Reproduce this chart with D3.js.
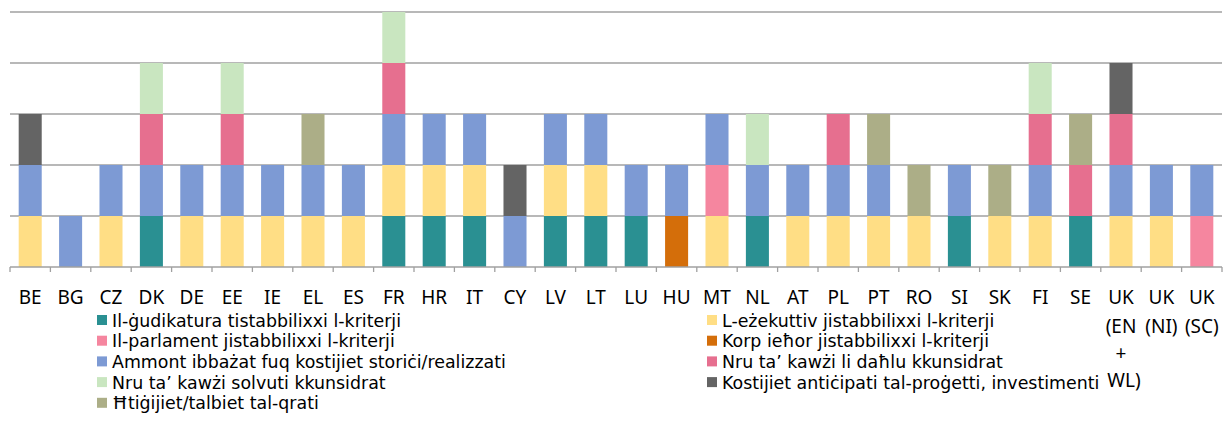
<!DOCTYPE html>
<html>
<head>
<meta charset="utf-8">
<script src="https://cdn.jsdelivr.net/npm/d3@7"></script>
<style>
  body { margin: 0; background: #fff; }
  svg { display: block; font-family: "Noto Sans", "Open Sans", sans-serif; }
  .legend text { font-family: "DejaVu Sans", "Noto Sans", sans-serif; }
</style>
</head>
<body>
<script>
// pajjiżi
var categories = ["BE","BG","CZ","DK","DE","EE","IE","EL","ES","FR","HR","IT","CY","LV","LT","LU","HU","MT","NL","AT","PL","PT","RO","SI","SK","FI","SE","UK\n(EN\n+\nWL)","UK\n(NI)","UK\n(SC)"];

// serje (1 = il-kriterju jintuża)
var judiciary  = [0,0,0,1,0,0,0,0,0,1,1,1,0,1,1,1,0,0,1,0,0,0,0,1,0,0,1,0,0,0];
var executive  = [1,0,1,0,1,1,1,1,1,1,1,1,0,1,1,0,0,1,0,1,1,1,1,0,1,1,0,1,1,0];
var parliament = [0,0,0,0,0,0,0,0,0,0,0,0,0,0,0,0,0,1,0,0,0,0,0,0,0,0,0,0,0,1];
var otherBody  = [0,0,0,0,0,0,0,0,0,0,0,0,0,0,0,0,1,0,0,0,0,0,0,0,0,0,0,0,0,0];
var amount     = [1,1,1,1,1,1,1,1,1,1,1,1,1,1,1,1,1,1,1,1,1,1,0,1,0,1,0,1,1,1];
var casesIn    = [0,0,0,1,0,1,0,0,0,1,0,0,0,0,0,0,0,0,0,0,1,0,0,0,0,1,1,1,0,0];
var solved     = [0,0,0,1,0,1,0,0,0,1,0,0,0,0,0,0,0,0,1,0,0,0,0,0,0,1,0,0,0,0];
var costs      = [1,0,0,0,0,0,0,0,0,0,0,0,1,0,0,0,0,0,0,0,0,0,0,0,0,0,0,1,0,0];
var needs      = [0,0,0,0,0,0,0,1,0,0,0,0,0,0,0,0,0,0,0,0,0,1,1,0,1,0,1,0,0,0];

var seriesNames = [
  "Il-ġudikatura tistabbilixxi l-kriterji",
  "L-eżekuttiv jistabbilixxi l-kriterji",
  "Il-parlament jistabbilixxi l-kriterji",
  "Korp ieħor jistabbilixxi l-kriterji",
  "Ammont ibbażat fuq kostijiet storiċi/realizzati",
  "Nru ta’ kawżi li daħlu kkunsidrat",
  "Nru ta’ kawżi solvuti kkunsidrat",
  "Kostijiet antiċipati tal-proġetti, investimenti",
  "Ħtiġijiet/talbiet tal-qrati"
];
var seriesValues = [judiciary, executive, parliament, otherBody, amount, casesIn, solved, costs, needs];
var seriesColors = ["#2a9092","#ffde85","#f5869f","#d46e0a","#7d9ad4","#e66f8f","#c9e6c0","#646464","#acae87"];

var W = 1226, H = 442;
var margin = {top: 12, bottom: 175, left: 10, right: 4};

var svg = d3.select("body").append("svg")
  .attr("width", W).attr("height", H);

var x = d3.scaleBand()
  .domain(categories)
  .range([margin.left, W - margin.right])
  .paddingInner(0.43)
  .paddingOuter(0.215);

var y = d3.scaleLinear()
  .domain([0, 5])
  .range([H - margin.bottom, margin.top]);

// tabella għal d3.stack
var table = categories.map(function (c, i) {
  var row = {cat: c};
  seriesNames.forEach(function (n, k) { row[n] = seriesValues[k][i]; });
  return row;
});
var stacked = d3.stack().keys(seriesNames)(table);

// linji tal-grilja
svg.append("g")
  .selectAll("line")
  .data(y.ticks(5).filter(function (t) { return t > 0; }))
  .enter().append("line")
  .attr("x1", margin.left).attr("x2", W - margin.right)
  .attr("y1", function (d) { return y(d); })
  .attr("y2", function (d) { return y(d); })
  .attr("stroke", "#a0a0a0").attr("stroke-width", 1.3);

// vireg
svg.append("g")
  .selectAll("g")
  .data(stacked)
  .enter().append("g")
  .attr("fill", function (d, k) { return seriesColors[k]; })
  .selectAll("rect")
  .data(function (d) { return d.filter(function (s) { return s[1] > s[0]; }); })
  .enter().append("rect")
  .attr("x", function (s) { return x(s.data.cat); })
  .attr("width", x.bandwidth())
  .attr("y", function (s) { return y(s[1]); })
  .attr("height", function (s) { return y(s[0]) - y(s[1]); });

// assi x
var y0 = y(0);
var step = x.step();
var x0 = x.range()[0];
var axis = svg.append("g");
axis.append("line")
  .attr("x1", x0).attr("x2", W - margin.right)
  .attr("y1", y0).attr("y2", y0)
  .attr("stroke", "#a0a0a0").attr("stroke-width", 1.3);
axis.selectAll("line.tick")
  .data(d3.range(categories.length + 1))
  .enter().append("line")
  .attr("class", "tick")
  .attr("x1", function (i) { return x0 + i * step; })
  .attr("x2", function (i) { return x0 + i * step; })
  .attr("y1", y0).attr("y2", y0 + 5)
  .attr("stroke", "#a0a0a0").attr("stroke-width", 1.3);

axis.selectAll("text")
  .data(categories)
  .enter().append("text")
  .attr("x", function (c) { return x(c) + x.bandwidth() / 2; })
  .attr("y", y0 + 37)
  .attr("text-anchor", "middle")
  .attr("font-size", 19)
  .attr("fill", "#000")
  .each(function (c) {
    var t = d3.select(this);
    c.split("\n").forEach(function (ln, j) {
      t.append("tspan")
        .attr("x", x(c) + x.bandwidth() / 2 + (ln === "WL)" ? 3 : 0))
        .attr("dy", j === 0 ? 0 : (j === 1 ? 29 : 27))
        .text(ln);
    });
  });

// leġġenda
var legend = svg.append("g").attr("class", "legend");
var item = legend.selectAll("g")
  .data(seriesNames)
  .enter().append("g")
  .attr("transform", function (d, k) {
    var col = k % 2, row = Math.floor(k / 2);
    return "translate(" + (col === 0 ? 97 : 707) + "," + (320 + row * 20.7) + ")";
  });
item.append("rect")
  .attr("x", 0).attr("y", -5).attr("width", 10).attr("height", 10)
  .attr("fill", function (d, k) { return seriesColors[k]; });
item.append("text")
  .attr("x", 15).attr("y", 6.5)
  .attr("font-size", 17.4)
  .attr("fill", "#000")
  .text(function (d) { return d; });
</script>
</body>
</html>
